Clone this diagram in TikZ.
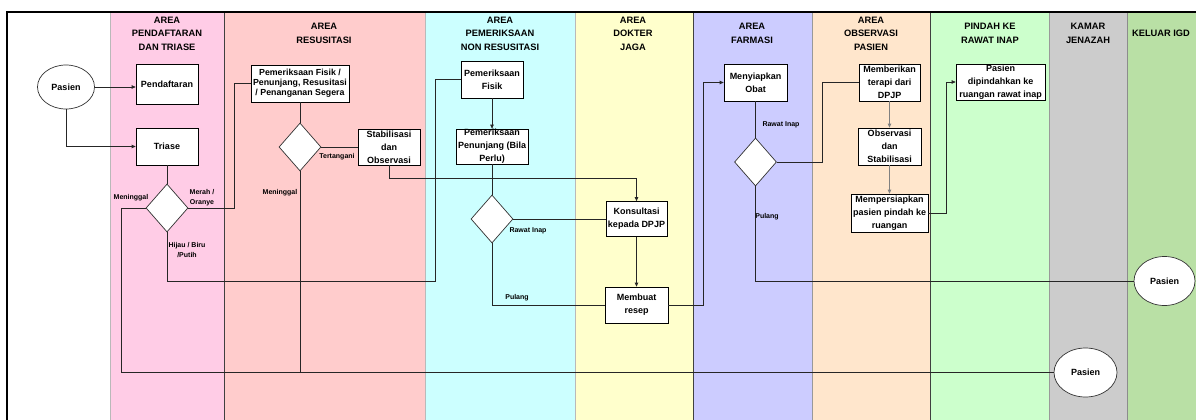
\documentclass[tikz,border=0pt]{standalone}
\usepackage{fontspec}
\setmainfont{Liberation Sans}
\usetikzlibrary{shapes.geometric,arrows.meta}
\definecolor{cPink}{HTML}{FFCCE6}
\definecolor{cRed}{HTML}{FFCCCC}
\definecolor{cCyan}{HTML}{CCFFFF}
\definecolor{cYellow}{HTML}{FFFFCC}
\definecolor{cLav}{HTML}{CCCCFF}
\definecolor{cPeach}{HTML}{FFE6CC}
\definecolor{cLGreen}{HTML}{CCFFCC}
\definecolor{cGray}{HTML}{CCCCCC}
\definecolor{cGreen}{HTML}{B9E0A5}
\begin{document}
\begin{tikzpicture}[x=1pt,y=-1pt,
  box/.style={draw=black,line width=0.7pt,fill=white,align=center,inner sep=0pt,font=\fontsize{9}{13}\selectfont\bfseries},
  dia/.style={draw=black!80,line width=0.7pt,fill=white,shape=diamond,minimum width=42pt,minimum height=48pt,inner sep=0pt},
  pas/.style={draw=black!80,line width=0.7pt,fill=white,ellipse,inner sep=0pt,font=\fontsize{9}{11}\selectfont\bfseries},
  conn/.style={draw=black!85,line width=0.7pt},
  arr/.style={conn,-{Triangle[length=4pt,width=3.5pt]}},
  lbl/.style={font=\fontsize{7}{10}\selectfont\bfseries,align=center,inner sep=0pt},
  hdr/.style={font=\fontsize{9.3}{13.5}\selectfont\bfseries,align=center,inner sep=0pt},
  seplight/.style={draw=gray!55,line width=0.8pt},
  sepdark/.style={draw=black!75,line width=0.8pt},
]
\useasboundingbox (0,0) rectangle (1196,420);
\fill[white] (0,0) rectangle (1196,420);
% lanes
\fill[cPink]   (110,12) rectangle (224,425);
\fill[cRed]    (224,12) rectangle (425,425);
\fill[cCyan]   (425,12) rectangle (575,425);
\fill[cYellow] (575,12) rectangle (693,425);
\fill[cLav]    (693,12) rectangle (812,425);
\fill[cPeach]  (812,12) rectangle (930,425);
\fill[cLGreen] (930,12) rectangle (1049,425);
\fill[cGray]   (1049,12) rectangle (1127,425);
\fill[cGreen]  (1127,12) rectangle (1200,425);
\draw[seplight] (110,12) -- (110,425);
\draw[sepdark]  (224,12) -- (224,425);
\draw[seplight] (425,12) -- (425,425);
\draw[seplight] (575,12) -- (575,425);
\draw[sepdark]  (693,12) -- (693,425);
\draw[seplight,draw=gray!80] (812,12) -- (812,425);
\draw[sepdark]  (930,12) -- (930,425);
\draw[seplight,draw=gray!80] (1049,12) -- (1049,425);
\draw[seplight,draw=gray!90] (1127,12) -- (1127,425);
\draw[line width=1.2pt] (7,425) -- (7,12) -- (1200,12);
% headers
\node[hdr] (h1) at (167,33.5) {AREA\\PENDAFTARAN\\DAN TRIASE};
\node[hdr] (h2) at (324,33.5) {AREA\\RESUSITASI};
\node[hdr] (h3) at (500,33.5) {AREA\\PEMERIKSAAN\\NON RESUSITASI};
\node[hdr] (h4) at (633,33.5) {AREA\\DOKTER\\JAGA};
\node[hdr] (h5) at (752,33.5) {AREA\\FARMASI};
\node[hdr] (h6) at (871,33.5) {AREA\\OBSERVASI\\PASIEN};
\node[hdr] (h7) at (990,33.5) {PINDAH KE\\RAWAT INAP};
\node[hdr] (h8) at (1088,33.5) {KAMAR\\JENAZAH};
\node[hdr] (h9) at (1161,33.5) {KELUAR IGD};
% nodes
\node[pas,minimum width=57pt,minimum height=44pt] (p1) at (66,87) {Pasien};
\node[box,minimum width=62pt,minimum height=40pt] (pend) at (167,84) {Pendaftaran};
\node[box,minimum width=62pt,minimum height=37pt] (triase) at (167,146.5) {Triase};
\node[dia] (d1) at (167,208) {};
\node[box,minimum width=98pt,minimum height=37pt,font=\fontsize{8.8}{10}\selectfont\bfseries] (resus) at (300,83.5) {Pemeriksaan Fisik /\\Penunjang, Resusitasi\\/ Penanganan Segera};
\node[dia] (d3) at (300,147) {};
\node[box,minimum width=62pt,minimum height=36pt] (stab) at (389,147) {Stabilisasi\\dan\\Observasi};
\node[box,minimum width=62pt,minimum height=37pt] (fisik) at (492,79.5) {Pemeriksaan\\Fisik};
\node[box,minimum width=72pt,minimum height=35pt] (penunjang) at (492,146.5) {Pemeriksaan\\Penunjang (Bila\\Perlu)};
\node[dia] (d2) at (492,219) {};
\node[box,minimum width=61pt,minimum height=35pt] (kons) at (636.5,219) {Konsultasi\\kepada DPJP};
\node[box,minimum width=63pt,minimum height=36pt] (resep) at (636.5,305) {Membuat\\resep};
\node[box,minimum width=63pt,minimum height=37pt] (obat) at (755.5,82.5) {Menyiapkan\\Obat};
\node[dia] (d4) at (755.5,162) {};
\node[box,minimum width=61pt,minimum height=37pt] (beri) at (889.5,82.5) {Memberikan\\terapi dari\\DPJP};
\node[box,minimum width=63pt,minimum height=37pt] (obs) at (889.5,146.5) {Observasi\\dan\\Stabilisasi};
\node[box,minimum width=77pt,minimum height=38pt] (siap) at (889.5,213) {Mempersiapkan\\pasien pindah ke\\ruangan};
\node[box,minimum width=89pt,minimum height=36pt] (pindah) at (1000.5,82) {Pasien\\dipindahkan ke\\ruangan rawat inap};
\node[pas,minimum width=61pt,minimum height=49pt] (p2) at (1164.5,281) {Pasien};
\node[pas,minimum width=63pt,minimum height=49pt] (p3) at (1085.5,372.5) {Pasien};
% connectors
\draw[arr] (p1.east) -- (p1.east -| pend.west);
\draw[arr] (p1.south) |- (triase.west);
\draw[conn] (triase.south) -- (d1.north);
\draw[conn] (d1.east) -- (234,208) |- (resus.west);
\draw[conn] (d1.west) -- (121,208) |- (p3.west);
\draw[conn] (d1.south) |- (435,281) |- (fisik.west);
\draw[conn] (resus.south) -- (d3.north);
\draw[conn] (d3.east) -- (stab.west);
\draw[conn] (d3.south) -- (d3.south |- p3.west);
\draw[arr] (stab.south) -- (389,178) -| (kons.north);
\draw[arr] (fisik.south) -- (penunjang.north);
\draw[conn] (penunjang.south) -- (d2.north);
\draw[conn] (d2.east) -- (kons.west);
\draw[conn] (d2.south) |- (resep.west);
\draw[arr] (kons.south) -- (resep.north);
\draw[arr] (resep.east) -- (703.5,305) |- (obat.west);
\draw[conn] (obat.south) -- (d4.north);
\draw[conn] (d4.east) -- (822,162) |- (beri.west);
\draw[conn] (d4.south) |- (p2.west);
\draw[arr,draw=gray] (beri.south) -- (obs.north);
\draw[arr,draw=gray] (obs.south) -- (siap.north);
\draw[arr] (siap.east) -- (946,213) |- (pindah.west);
% labels
\node[lbl] (l1) at (131,198) {Meninggal};
\node[lbl] (l2) at (202,198) {Merah /\\Oranye};
\node[lbl] (l3) at (187,250.5) {Hijau / Biru\\/Putih};
\node[lbl] (l4) at (337,157) {Tertangani};
\node[lbl] (l5) at (280,193) {Meninggal};
\node[lbl] (l6) at (528,231) {Rawat Inap};
\node[lbl] (l7) at (517,298) {Pulang};
\node[lbl] (l8) at (781,125) {Rawat Inap};
\node[lbl] (l9) at (767,217) {Pulang};
\end{tikzpicture}
\end{document}
